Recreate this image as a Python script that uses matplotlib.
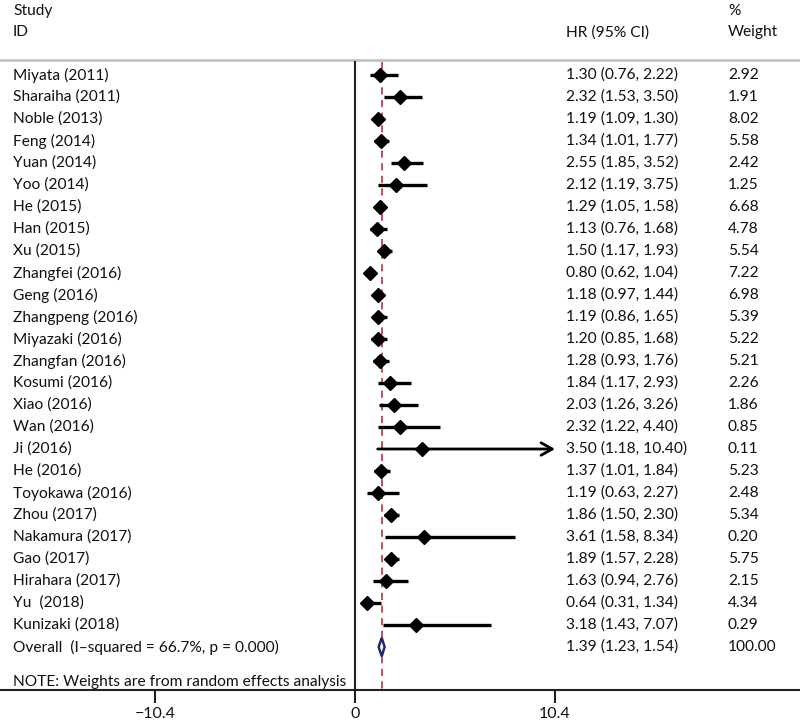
import matplotlib
matplotlib.use("Agg")
import matplotlib.pyplot as plt
import matplotlib.transforms as mtransforms
from matplotlib.patches import Polygon

plt.rcParams['font.family'] = ['Lato', 'DejaVu Sans']

studies = ["Miyata (2011)", "Sharaiha (2011)", "Noble (2013)", "Feng (2014)", "Yuan (2014)",
           "Yoo (2014)", "He (2015)", "Han (2015)", "Xu (2015)", "Zhangfei (2016)",
           "Geng (2016)", "Zhangpeng (2016)", "Miyazaki (2016)", "Zhangfan (2016)",
           "Kosumi (2016)", "Xiao (2016)", "Wan (2016)", "Ji (2016)", "He (2016)",
           "Toyokawa (2016)", "Zhou (2017)", "Nakamura (2017)", "Gao (2017)",
           "Hirahara (2017)", "Yu  (2018)", "Kunizaki (2018)"]
hr = [1.30, 2.32, 1.19, 1.34, 2.55, 2.12, 1.29, 1.13, 1.50, 0.80, 1.18, 1.19, 1.20, 1.28,
      1.84, 2.03, 2.32, 3.50, 1.37, 1.19, 1.86, 3.61, 1.89, 1.63, 0.64, 3.18]
lo = [0.76, 1.53, 1.09, 1.01, 1.85, 1.19, 1.05, 0.76, 1.17, 0.62, 0.97, 0.86, 0.85, 0.93,
      1.17, 1.26, 1.22, 1.18, 1.01, 0.63, 1.50, 1.58, 1.57, 0.94, 0.31, 1.43]
hi = [2.22, 3.50, 1.30, 1.77, 3.52, 3.75, 1.58, 1.68, 1.93, 1.04, 1.44, 1.65, 1.68, 1.76,
      2.93, 3.26, 4.40, 10.40, 1.84, 2.27, 2.30, 8.34, 2.28, 2.76, 1.34, 7.07]
weights = [2.92, 1.91, 8.02, 5.58, 2.42, 1.25, 6.68, 4.78, 5.54, 7.22, 6.98, 5.39, 5.22,
           5.21, 2.26, 1.86, 0.85, 0.11, 5.23, 2.48, 5.34, 0.20, 5.75, 2.15, 4.34, 0.29]
overall_label = "Overall  (I\u2013squared = 66.7%, p = 0.000)"
overall_hr, overall_lo, overall_hi, overall_w = 1.39, 1.23, 1.54, 100.00
x_ticks = [-10.4, 0, 10.4]
note = "NOTE: Weights are from random effects analysis"

fig = plt.figure(figsize=(8, 7.24), dpi=100)
ax = fig.add_axes([0, 34 / 724, 1, 690 / 724])
px_per_unit = 200 / 10.4
ax.set_xlim(-355 / px_per_unit, 445 / px_per_unit)
ax.set_ylim(690 / 22 - 75 / 22, -75 / 22)

for s in ['top', 'left', 'right']:
    ax.spines[s].set_visible(False)
ax.spines['bottom'].set_linewidth(1.5)
ax.spines['bottom'].set_color('#222222')
ax.set_yticks([])
ax.set_xticks(x_ticks)
ax.set_xticklabels([("\u2212" + f"{abs(t):g}") if t < 0 else f"{t:g}" for t in x_ticks])
ax.tick_params(axis='x', direction='out', length=9, width=1.5, color='#222222',
               labelsize=11.5, pad=3, labelcolor='#111111')

tr = mtransforms.blended_transform_factory(ax.transAxes, ax.transData)
fs = 11.2
tc = '#111111'
x_name, x_hr, x_w = 13 / 800, 566 / 800, 728 / 800

# header
ax.text(x_name, -2.9, "Study", transform=tr, fontsize=fs, color=tc, va='center')
ax.text(x_name, -1.95, "ID", transform=tr, fontsize=fs, color=tc, va='center')
ax.text(x_hr, -1.95, "HR (95% CI)", transform=tr, fontsize=fs, color=tc, va='center')
ax.text(x_w, -2.9, "%", transform=tr, fontsize=fs, color=tc, va='center')
ax.text(x_w, -1.95, "Weight", transform=tr, fontsize=fs, color=tc, va='center')
ax.plot([0, 1], [-0.7, -0.7], transform=tr, color='#b8bfc8', lw=1.8, clip_on=False)

ytop = -0.6
ybot = ax.get_ylim()[0]
ax.plot([0, 0], [ytop, ybot], color='#222222', lw=1.5)
ax.plot([overall_hr, overall_hr], [ytop, ybot], color='#b5474a', lw=1.3,
        dashes=(4, 3))

arrow_limit = x_ticks[-1]
for i, (name, h, l, u, w) in enumerate(zip(studies, hr, lo, hi, weights)):
    ax.text(x_name, i, name, transform=tr, fontsize=fs, color=tc, va='center')
    ax.text(x_hr, i, f"{h:.2f} ({l:.2f}, {u:.2f})", transform=tr, fontsize=fs,
            color=tc, va='center')
    ax.text(x_w, i, f"{w:.2f}", transform=tr, fontsize=fs, color=tc, va='center')
    if u >= arrow_limit:
        ax.annotate("", xy=(u, i), xytext=(l, i),
                    arrowprops=dict(arrowstyle='->,head_length=0.8,head_width=0.45',
                                    color='black', lw=2.0, shrinkA=0, shrinkB=0))
    else:
        ax.plot([l, u], [i, i], color='black', lw=2.4, solid_capstyle='butt')
    ax.plot(h, i, marker='D', color='black', markersize=7)

n = len(studies)
ax.text(x_name, n, overall_label, transform=tr, fontsize=fs, color=tc, va='center')
ax.text(x_hr, n, f"{overall_hr:.2f} ({overall_lo:.2f}, {overall_hi:.2f})", transform=tr,
        fontsize=fs, color=tc, va='center')
ax.text(x_w, n, f"{overall_w:.2f}", transform=tr, fontsize=fs, color=tc, va='center')
dia = Polygon([(overall_lo, n), (overall_hr, n - 0.42), (overall_hi, n),
               (overall_hr, n + 0.42)], closed=True, facecolor='white',
              edgecolor='#1f2a6e', lw=1.8, zorder=5)
ax.add_patch(dia)

ax.text(x_name, n + 1.6, note, transform=tr, fontsize=fs, color=tc, va='center')

fig.savefig("out.png", dpi=100)
